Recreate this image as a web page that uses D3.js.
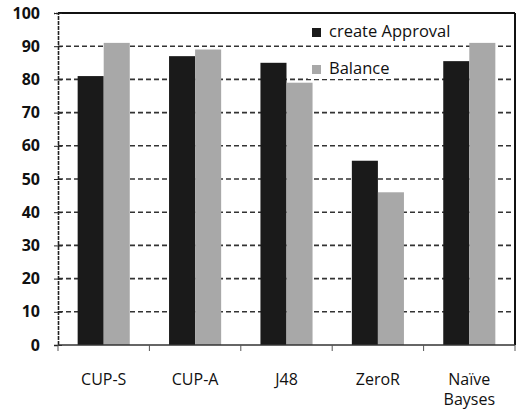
<!DOCTYPE html>
<html>
<head>
<meta charset="utf-8">
<script src="https://cdn.jsdelivr.net/npm/d3@7"></script>
<style>
  body { margin: 0; background: #fff; }
  text { font-family: "Open Sans", "Liberation Sans", sans-serif; }
</style>
</head>
<body>
<div id="container"></div>
<script>
let w = 519;
let h = 409;

// chart values
let categories = ["CUP-S", "CUP-A", "J48", "ZeroR", "Naïve Bayses"];
let approval = [81, 87, 85, 55.5, 85.5];
let balance = [91, 89, 79, 46, 91];
let seriesNames = ["create Approval", "Balance"];
let yTicks = [0, 10, 20, 30, 40, 50, 60, 70, 80, 90, 100];

let colors = ["#1a1a1a", "#a8a8a8"];

let plotLeft = 58, plotRight = 515, plotTop = 13, plotBottom = 345;

let viz = d3.select("#container")
  .append("svg")
    .attr("width", w)
    .attr("height", h)
    .style("background-color", "#ffffff");

let xScale = d3.scaleBand().domain(categories).range([plotLeft, plotRight]).paddingInner(0.43).paddingOuter(0.215);
let inner = d3.scaleBand().domain(seriesNames).range([0, xScale.bandwidth()]);
let yScale = d3.scaleLinear().domain([0, 100]).range([plotBottom, plotTop]);

// dashed gridlines
viz.append("g").selectAll("line")
  .data(yTicks.filter(d => d > 0 && d < 100))
  .enter().append("line")
    .attr("x1", plotLeft).attr("x2", plotRight)
    .attr("y1", d => yScale(d)).attr("y2", d => yScale(d))
    .attr("stroke", "#333")
    .attr("stroke-width", 1.6)
    .attr("stroke-dasharray", "5,3");

// legend (white boxes hide the gridlines behind the text)
let legend = viz.append("g").attr("transform", "translate(311,24)");
seriesNames.forEach((s, i) => {
  let g = legend.append("g").attr("transform", "translate(0," + i * 37 + ")");
  let t = g.append("text").attr("x", 18).attr("y", 13).attr("font-size", 16.5).attr("fill", "#111").text(s);
  let tw = t.node().getComputedTextLength();
  g.insert("rect", "text").attr("x", -3).attr("y", -3).attr("width", tw + 24).attr("height", 21).attr("fill", "#fff");
  g.insert("rect", "text").attr("x", 1).attr("y", 4).attr("width", 9).attr("height", 9).attr("fill", colors[i]);
});

// bars
let data = categories.map((c, i) => ({cat: c, vals: [approval[i], balance[i]]}));
let groups = viz.append("g").selectAll(".datagroup")
  .data(data).enter().append("g")
    .attr("class", "datagroup")
    .attr("transform", d => "translate(" + xScale(d.cat) + ",0)");

groups.selectAll("rect")
  .data(d => d.vals.map((v, j) => ({name: seriesNames[j], v: v, j: j})))
  .enter().append("rect")
    .attr("x", d => inner(d.name))
    .attr("width", inner.bandwidth())
    .attr("y", d => yScale(d.v))
    .attr("height", d => yScale(0) - yScale(d.v))
    .attr("fill", d => colors[d.j]);

// frame: top and right solid
viz.append("line").attr("x1", plotLeft).attr("x2", plotRight).attr("y1", plotTop).attr("y2", plotTop)
  .attr("stroke", "#111").attr("stroke-width", 2);
viz.append("line").attr("x1", plotRight).attr("x2", plotRight).attr("y1", plotTop).attr("y2", plotBottom)
  .attr("stroke", "#111").attr("stroke-width", 2);

// y axis
let yAxis = d3.axisLeft(yScale).tickValues(yTicks).tickSize(4).tickPadding(14);
let yAxisGroup = viz.append("g").attr("class", "yaxis")
  .attr("transform", "translate(" + plotLeft + ",0)")
  .call(yAxis);
yAxisGroup.select(".domain").attr("stroke", "#222").attr("stroke-width", 1.6).attr("stroke-dasharray", "4,1");
yAxisGroup.selectAll(".tick line").attr("stroke", "#222").attr("x2", 4).attr("x1", -4);
yAxisGroup.selectAll("text")
  .attr("font-size", 16)
  .attr("font-weight", "bold")
  .attr("fill", "#111");

// x axis
let xAxisGroup = viz.append("g").attr("class", "xaxis")
  .attr("transform", "translate(0," + plotBottom + ")");
xAxisGroup.append("line").attr("x1", plotLeft).attr("x2", plotRight)
  .attr("stroke", "#333").attr("stroke-width", 1.6);
xAxisGroup.selectAll(".sep")
  .data(d3.range(categories.length + 1))
  .enter().append("line")
    .attr("x1", i => plotLeft + i * (plotRight - plotLeft) / categories.length)
    .attr("x2", i => plotLeft + i * (plotRight - plotLeft) / categories.length)
    .attr("y1", 0).attr("y2", 6)
    .attr("stroke", "#555");

let labels = xAxisGroup.selectAll(".lbl")
  .data(categories).enter().append("text")
    .attr("text-anchor", "middle")
    .attr("x", d => xScale(d) + xScale.bandwidth() / 2)
    .attr("y", 40)
    .attr("font-size", 16)
    .attr("fill", "#111");
labels.each(function(d) {
  let parts = d.split(" ");
  let t = d3.select(this);
  parts.forEach((p, k) => {
    t.append("tspan").attr("x", xScale(d) + xScale.bandwidth() / 2).attr("dy", k === 0 ? 0 : 20).text(p);
  });
});
</script>
</body>
</html>
